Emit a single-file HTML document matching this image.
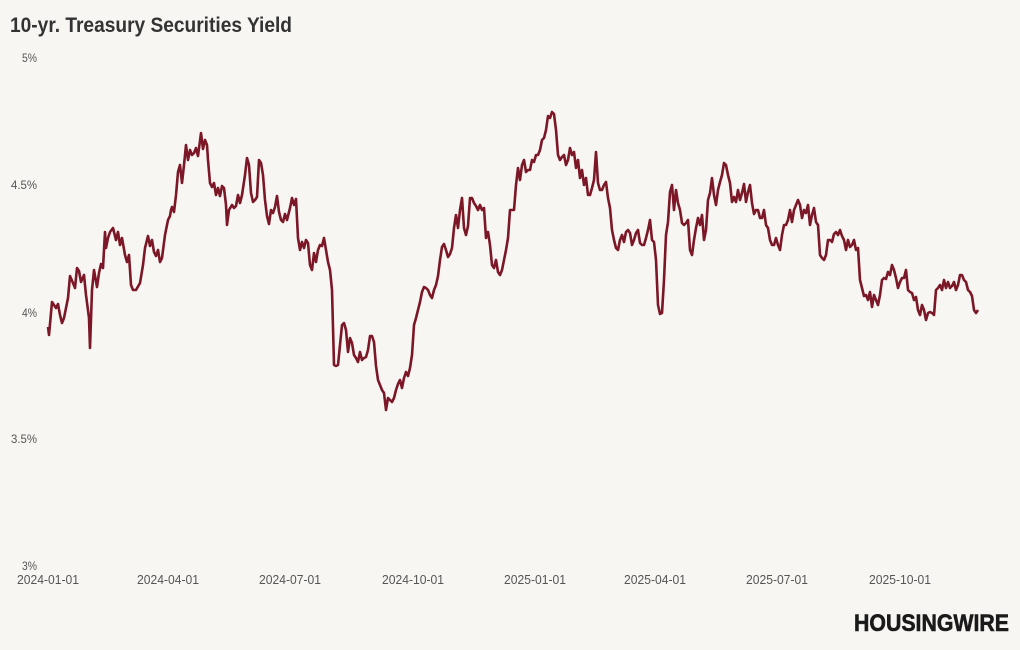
<!DOCTYPE html>
<html><head><meta charset="utf-8"><style>
body{margin:0;background:#f8f6f3;}
svg{display:block;}
text{font-family:"Liberation Sans Narrow","Liberation Sans",sans-serif;}
</style></head><body>
<svg width="1020" height="650" viewBox="0 0 1020 650">
<rect width="1020" height="650" fill="#f8f6f3"/>
<text x="10" y="32" font-size="21" font-weight="bold" fill="#333" textLength="282" lengthAdjust="spacingAndGlyphs">10-yr. Treasury Securities Yield</text>
<g font-size="12" fill="#555" text-anchor="end">
<text x="37" y="62" textLength="15" lengthAdjust="spacingAndGlyphs">5%</text>
<text x="37" y="189" textLength="26" lengthAdjust="spacingAndGlyphs">4.5%</text>
<text x="37" y="317" textLength="15" lengthAdjust="spacingAndGlyphs">4%</text>
<text x="37" y="443" textLength="26" lengthAdjust="spacingAndGlyphs">3.5%</text>
<text x="37" y="570" textLength="15" lengthAdjust="spacingAndGlyphs">3%</text>
</g>
<g font-size="12.5" fill="#555" text-anchor="middle">
<text x="48" y="584" textLength="62" lengthAdjust="spacingAndGlyphs">2024-01-01</text>
<text x="168" y="584" textLength="62" lengthAdjust="spacingAndGlyphs">2024-04-01</text>
<text x="290" y="584" textLength="62" lengthAdjust="spacingAndGlyphs">2024-07-01</text>
<text x="413" y="584" textLength="62" lengthAdjust="spacingAndGlyphs">2024-10-01</text>
<text x="535" y="584" textLength="62" lengthAdjust="spacingAndGlyphs">2025-01-01</text>
<text x="655" y="584" textLength="62" lengthAdjust="spacingAndGlyphs">2025-04-01</text>
<text x="777" y="584" textLength="62" lengthAdjust="spacingAndGlyphs">2025-07-01</text>
<text x="900" y="584" textLength="62" lengthAdjust="spacingAndGlyphs">2025-10-01</text>
</g>
<polyline fill="none" stroke="#7b1726" stroke-width="2.6" stroke-linejoin="round" points="48,327 49,335 52,302 56,308 58,304 60,315 62,323 64,318 68,298 70,276 73,283 75,288 77,268 79,271 81,282 84,275 86,295 89,318 90,348 92,290 94,270 97,287 99,273 101,264 103,268 105,232 106,248 108,238 110,232 113,228 116,240 118,232 120,245 122,238 125,255 127,262 129,255 131,285 133,290 136,290 140,283 143,265 145,248 148,236 150,246 152,240 154,252 156,256 158,250 160,262 162,258 165,235 168,220 170,216 171,210 172,207 174,212 176,195 178,172 180,165 182,183 184,165 186,145 188,160 190,150 192,155 194,153 196,148 198,156 201,133 203,149 205,140 207,145 208,160 210,183 212,187 214,183 216,195 218,188 220,196 222,186 224,188 226,205 227,225 229,210 232,205 234,208 236,206 238,195 240,203 242,195 245,175 247,158 249,165 251,193 253,202 255,200 257,197 259,160 261,163 263,175 265,200 267,216 269,224 271,210 273,213 275,207 277,196 279,212 281,220 283,222 285,214 287,220 290,208 292,198 294,205 296,199 298,238 300,250 302,242 304,248 306,240 308,243 310,265 312,270 314,253 316,262 318,250 320,245 322,246 324,238 326,250 328,262 330,270 332,290 334,365 336,366 338,365 340,345 342,325 344,323 346,330 348,352 350,338 352,343 354,355 356,358 358,362 360,352 362,360 364,358 366,357 368,350 370,336 372,336 374,342 376,366 378,380 380,385 382,390 384,393 386,410 388,398 390,400 392,402 394,398 396,390 398,384 400,380 402,388 404,378 406,372 408,376 410,368 412,355 414,325 416,318 418,310 420,302 422,292 424,287 426,288 428,290 430,295 432,298 434,290 436,285 438,276 440,260 442,247 444,244 446,250 448,257 450,254 452,248 454,228 456,215 458,228 460,210 462,198 464,228 466,235 468,226 470,198 472,198 474,203 476,206 478,210 480,205 482,210 484,208 486,238 488,232 490,245 492,265 494,268 496,260 498,272 500,275 502,270 504,260 506,250 508,238 510,210 512,210 514,210 516,185 518,168 520,180 522,165 524,160 526,172 528,170 530,170 532,160 534,162 536,155 538,155 540,150 542,140 544,138 546,130 548,116 550,118 552,112 554,114 556,130 558,155 560,160 562,157 564,155 566,165 568,160 570,148 572,155 574,152 576,168 578,160 580,178 582,170 584,185 586,178 588,195 590,195 592,188 594,180 596,152 598,183 600,190 602,190 604,185 606,182 608,198 610,208 612,230 614,240 616,248 618,250 620,240 622,235 624,242 626,232 628,230 630,233 632,245 634,240 636,233 638,230 640,243 642,245 644,245 646,238 648,230 650,220 652,240 654,242 656,260 658,305 660,314 662,313 664,280 666,235 668,222 670,192 672,185 674,210 676,190 678,203 680,210 682,223 684,225 686,223 688,220 690,250 692,255 694,240 696,228 698,218 700,225 702,215 704,240 706,230 708,200 710,193 712,178 714,195 716,205 718,190 720,182 722,175 724,163 726,165 728,175 730,183 732,202 734,197 736,202 738,190 740,200 742,193 744,184 746,202 748,192 750,185 752,203 754,214 756,210 758,210 760,218 762,218 764,210 766,225 768,228 770,240 772,245 774,245 776,238 778,245 780,250 782,235 784,225 786,225 788,220 790,210 792,222 794,210 796,205 798,200 800,205 802,218 804,210 806,213 808,205 810,225 812,215 814,208 816,222 818,225 820,255 822,258 824,260 826,255 828,240 830,240 832,242 834,234 836,232 838,235 840,230 842,236 844,240 846,250 848,240 850,247 852,245 854,240 856,250 858,248 860,280 862,288 864,296 866,295 868,300 870,292 872,307 874,295 876,300 878,305 880,295 882,280 884,278 886,279 888,272 890,275 892,265 894,270 896,278 898,288 900,282 902,278 904,278 906,270 908,290 910,292 912,293 914,300 916,297 918,310 920,315 922,305 924,310 926,320 928,313 930,312 932,313 934,315 936,290 938,288 940,285 942,290 944,280 946,288 948,282 950,288 952,286 954,282 956,290 958,285 960,275 962,275 964,280 966,282 968,290 970,292 972,296 974,310 976,313 978,310"/>
<text x="1009" y="631" font-size="24" font-weight="bold" fill="#1a1a1a" text-anchor="end" textLength="155" lengthAdjust="spacingAndGlyphs" stroke="#1a1a1a" stroke-width="0.6" style="font-family:'Liberation Sans',sans-serif">HOUSINGWIRE</text>
</svg>
</body></html>
